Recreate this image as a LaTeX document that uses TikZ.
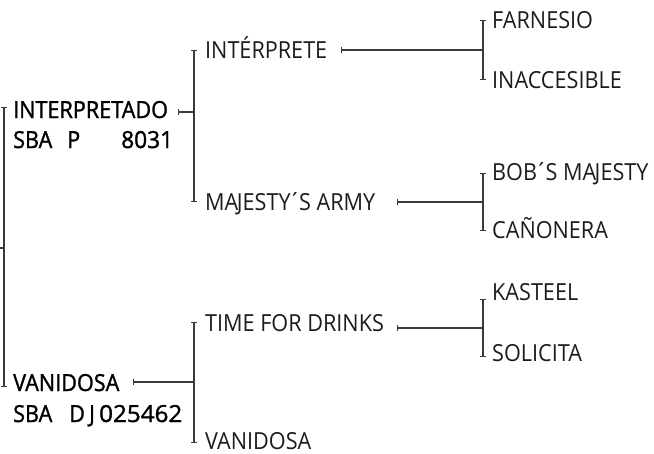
\documentclass[tikz,border=0pt]{standalone}
\usepackage{fontspec}
\usepackage{graphicx}
\setmainfont[FakeStretch=0.92]{Open Sans}
\newfontfamily\lvlone[FakeBold=1.3,FakeStretch=0.92]{Open Sans}
\usetikzlibrary{arrows.meta}
\definecolor{ink}{HTML}{1C1C1C}
\definecolor{linec}{HTML}{3A3A3A}
\newcommand{\acu}{\kern-2pt´\kern-2pt}
\begin{document}
\begin{tikzpicture}[x=1pt,y=-1pt,
  lab/.style={anchor=base west,inner sep=0pt,font=\fontsize{23.5}{26}\selectfont,text=ink},
  toplab/.style={anchor=base west,inner sep=0pt,font=\fontsize{23.5}{26}\lvlone,text=black},
  conn/.style={draw=linec,line width=1.1pt},
  brk/.style={conn,{Bar[width=6pt]}-{Bar[width=6pt]}},
  feed/.style={conn,{Bar[width=6pt]}-}]
\useasboundingbox (0,0) rectangle (654,453);

% level 1
\node[toplab] (interp) at (13,118) {INTERPRETADO};
\node[toplab] (interpid) at (13,148) {\makebox[0pt][l]{SBA}\hspace*{54pt}\makebox[0pt][l]{P}\hspace*{54pt}\scalebox{1.05}[1]{8031}};
\node[toplab] (vanid) at (13,391) {VANIDOSA};
\node[toplab] (vanidid) at (13,422) {\makebox[0pt][l]{SBA}\hspace*{56pt}\makebox[0pt][l]{D}\hspace*{20pt}\makebox[0pt][l]{J}\hspace*{10pt}\scalebox{1.12}[1]{025462}};

% level 2
\node[lab] (interprete) at (205,58) {INTÉRPRETE};
\node[lab] (majesty) at (205,210) {MA\kern-1.5pt JESTY\acu S ARMY};
\node[lab] (time) at (205,331) {TIME FOR DRINKS};
\node[lab] (vanid2) at (205,449) {VANIDOSA};

% level 3
\node[lab] (farnesio) at (492,28) {FARNESIO};
\node[lab] (inacc) at (492,88) {INACCESIBLE};
\node[lab] (bob) at (492,180) {BOB\acu S MA\kern-1.5pt JESTY};
\node[lab] (canon) at (492,238) {CAÑONERA};
\node[lab] (kasteel) at (492,300) {KASTEEL};
\node[lab] (solic) at (492,361) {SOLICITA};

% main bracket
\coordinate (b0t) at (4,107);
\coordinate (b0b) at (4,387);
\coordinate (b0m) at (4,248);
\coordinate (b0s) at (0,248);
\draw[brk] (b0t) -- (b0b);
\draw[conn] (b0s) -- (b0m);

% INTERPRETADO branch
\coordinate (f1) at (178,112);
\coordinate (b1m) at (194,112);
\coordinate (b1t) at (194,50);
\coordinate (b1b) at (194,202);
\draw[feed] (f1) -- (b1m);
\draw[brk] (b1t) -- (b1b);

% INTERPRETE branch
\coordinate (f2) at (341,50);
\coordinate (b2m) at (483,50);
\coordinate (b2t) at (483,20);
\coordinate (b2b) at (483,80);
\draw[feed] (f2) -- (b2m);
\draw[brk] (b2t) -- (b2b);

% MAJESTY branch
\coordinate (f3) at (397,202);
\coordinate (b3m) at (483,202);
\coordinate (b3t) at (483,173);
\coordinate (b3b) at (483,231);
\draw[feed] (f3) -- (b3m);
\draw[brk] (b3t) -- (b3b);

% VANIDOSA branch
\coordinate (f4) at (133,382);
\coordinate (b4m) at (194,382);
\coordinate (b4t) at (194,322);
\coordinate (b4b) at (194,443);
\draw[feed] (f4) -- (b4m);
\draw[brk] (b4t) -- (b4b);

% TIME FOR DRINKS branch
\coordinate (f5) at (397,328);
\coordinate (b5m) at (483,328);
\coordinate (b5t) at (483,299);
\coordinate (b5b) at (483,357);
\draw[feed] (f5) -- (b5m);
\draw[brk] (b5t) -- (b5b);
\end{tikzpicture}
\end{document}
